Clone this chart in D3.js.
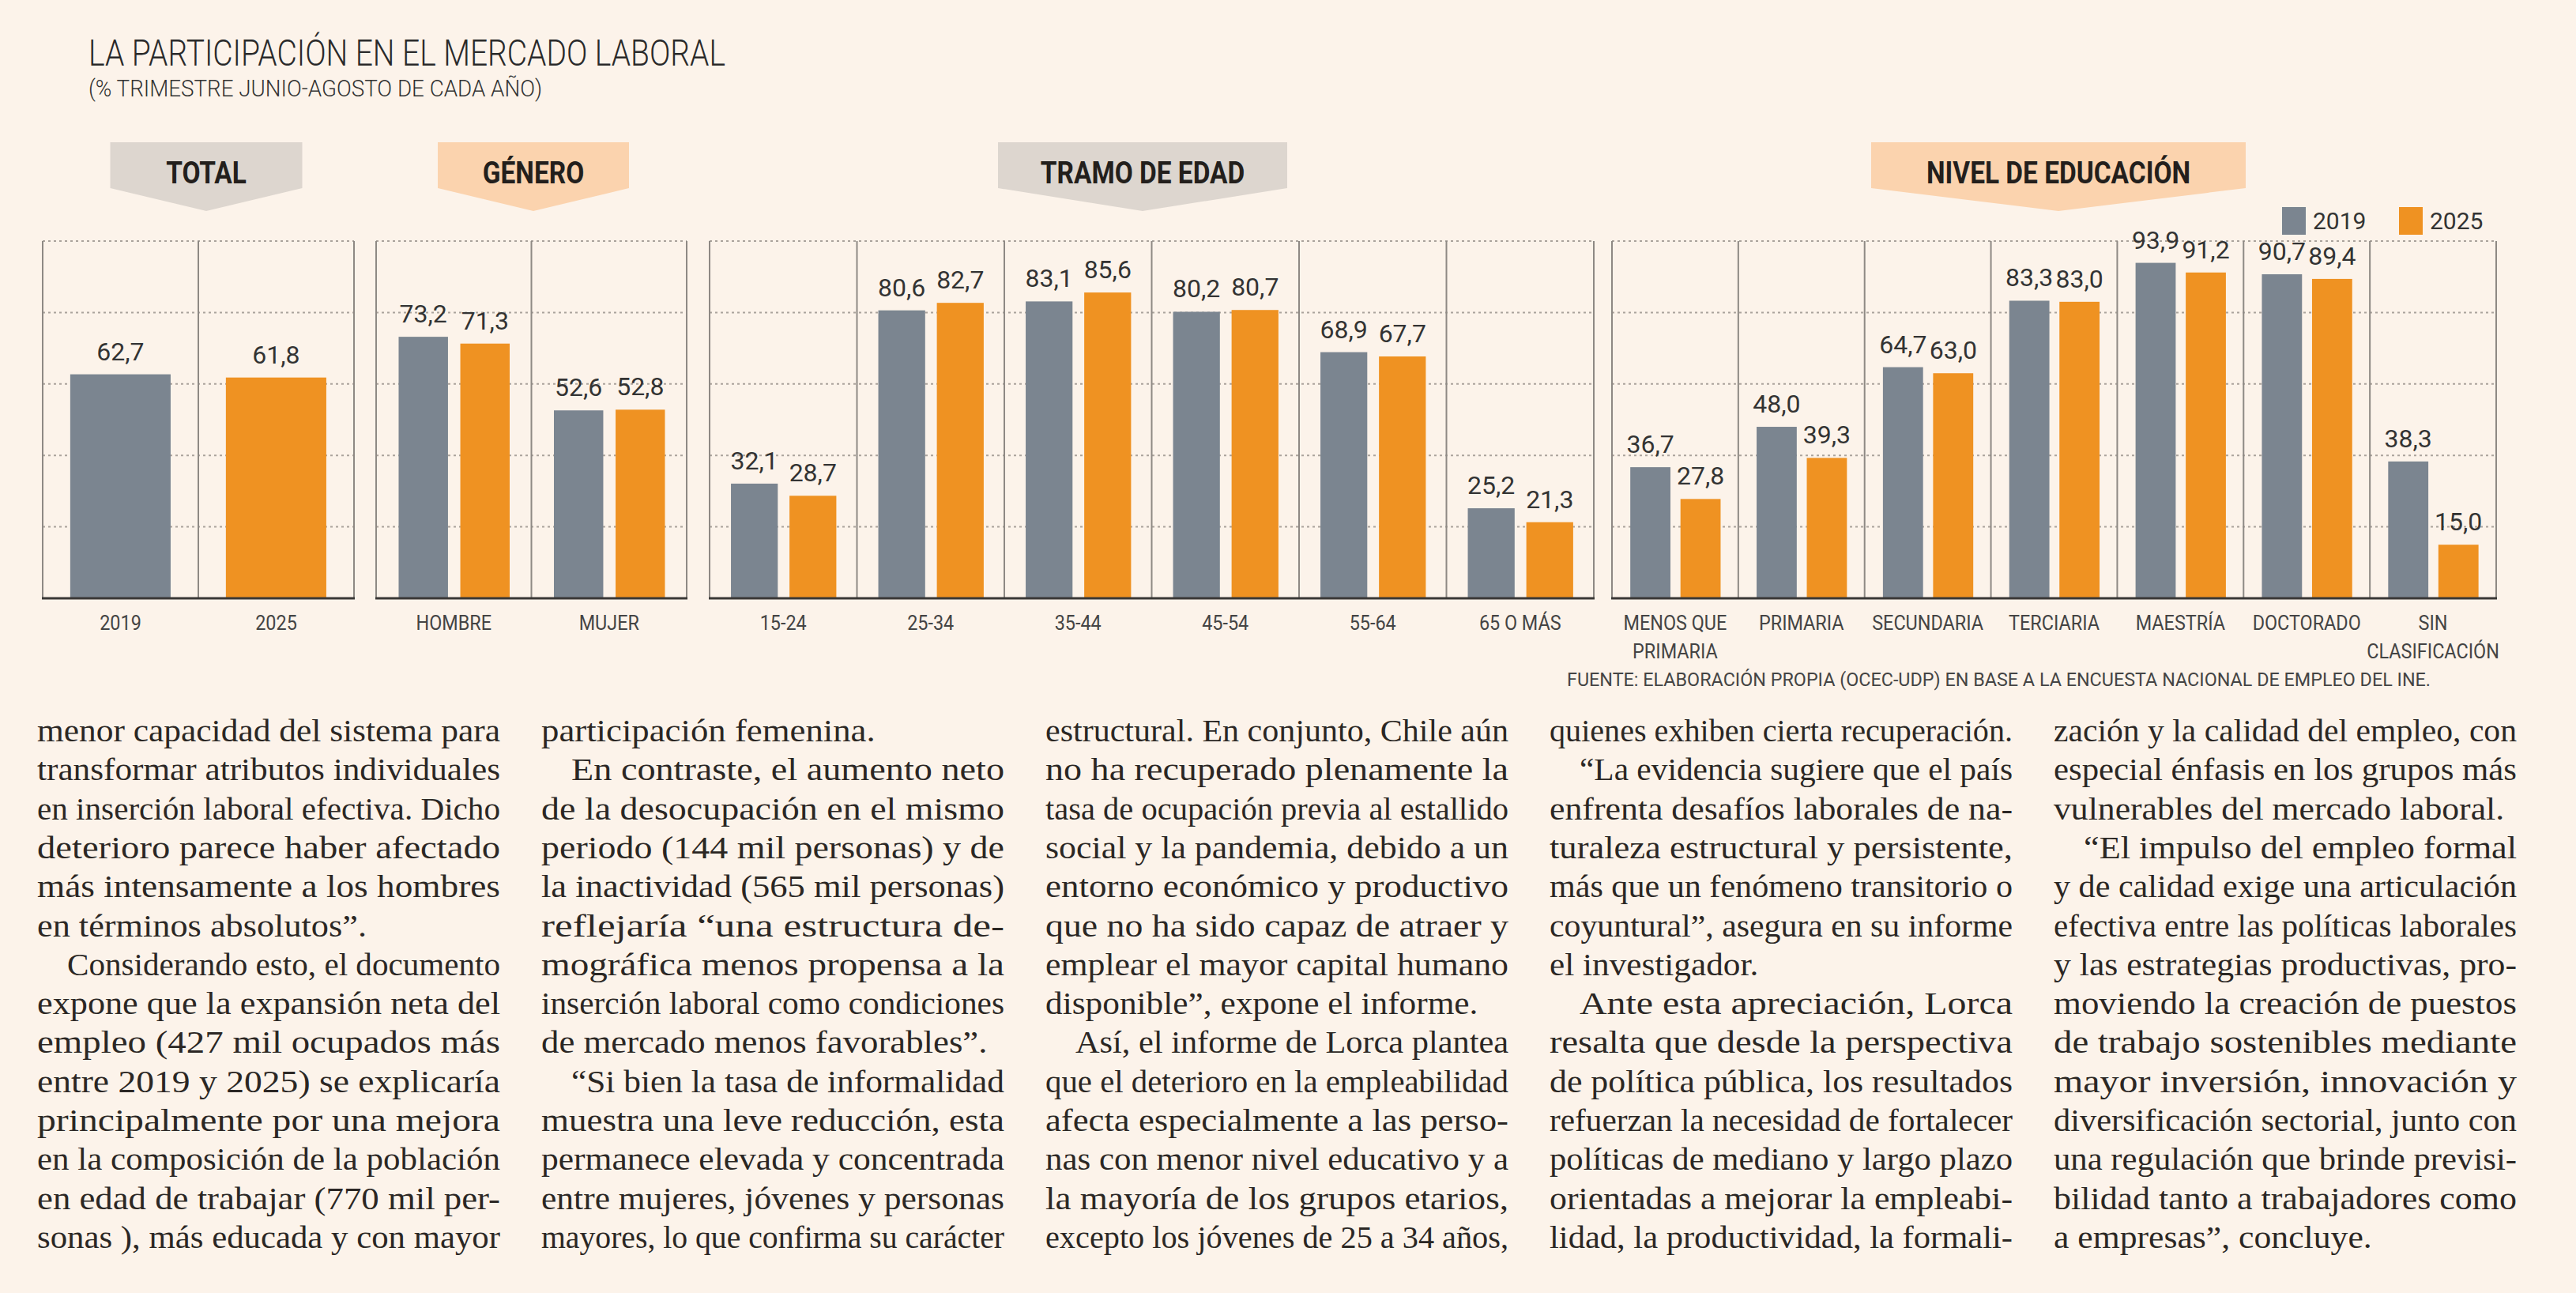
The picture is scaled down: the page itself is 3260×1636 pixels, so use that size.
<!DOCTYPE html>
<html>
<head>
<meta charset="utf-8">
<script src="https://cdn.jsdelivr.net/npm/d3@7"></script>
<style>
  body { margin: 0; background: #fcf3ea; }
  text { font-family: Roboto, "DejaVu Sans", sans-serif; }
</style>
</head>
<body>
<div id="chart"></div>
<script>
// ---- data ----
var years = ["2019", "2025"];
var headers = ["TOTAL", "GÉNERO", "TRAMO DE EDAD", "NIVEL DE EDUCACIÓN"];

var totalCats = ["2019", "2025"];
var totalValues = [62.7, 61.8];

var generoCats = ["HOMBRE", "MUJER"];
var genero2019 = [73.2, 52.6];
var genero2025 = [71.3, 52.8];

var edadCats = ["15-24", "25-34", "35-44", "45-54", "55-64", "65 O MÁS"];
var edad2019 = [32.1, 80.6, 83.1, 80.2, 68.9, 25.2];
var edad2025 = [28.7, 82.7, 85.6, 80.7, 67.7, 21.3];

var eduCats = ["MENOS QUE\nPRIMARIA", "PRIMARIA", "SECUNDARIA", "TERCIARIA", "MAESTRÍA", "DOCTORADO", "SIN\nCLASIFICACIÓN"];
var edu2019 = [36.7, 48.0, 64.7, 83.3, 93.9, 90.7, 38.3];
var edu2025 = [27.8, 39.3, 63.0, 83.0, 91.2, 89.4, 15.0];

var yTicks = [20, 40, 60, 80, 100];

var title = "LA PARTICIPACIÓN EN EL MERCADO LABORAL";
var subtitle = "(% TRIMESTRE JUNIO-AGOSTO DE CADA AÑO)";
var source = "FUENTE: ELABORACIÓN PROPIA (OCEC-UDP) EN BASE A LA ENCUESTA NACIONAL DE EMPLEO DEL INE.";

// article text under the chart: "i" = indented first line, "e" = paragraph end (not justified)
var col1 = [
  ["menor capacidad del sistema para", ""],
  ["transformar atributos individuales", ""],
  ["en inserción laboral efectiva. Dicho", ""],
  ["deterioro parece haber afectado", ""],
  ["más intensamente a los hombres", ""],
  ["en términos absolutos”.", "e"],
  ["Considerando esto, el documento", "i"],
  ["expone que la expansión neta del", ""],
  ["empleo (427 mil ocupados más", ""],
  ["entre 2019 y 2025) se explicaría", ""],
  ["principalmente por una mejora", ""],
  ["en la composición de la población", ""],
  ["en edad de trabajar (770 mil per-", ""],
  ["sonas ), más educada y con mayor", ""]
];
var col2 = [
  ["participación femenina.", "e"],
  ["En contraste, el aumento neto", "i"],
  ["de la desocupación en el mismo", ""],
  ["periodo (144 mil personas) y de", ""],
  ["la inactividad (565 mil personas)", ""],
  ["reflejaría “una estructura de-", ""],
  ["mográfica menos propensa a la", ""],
  ["inserción laboral como condiciones", ""],
  ["de mercado menos favorables”.", "e"],
  ["“Si bien la tasa de informalidad", "i"],
  ["muestra una leve reducción, esta", ""],
  ["permanece elevada y concentrada", ""],
  ["entre mujeres, jóvenes y personas", ""],
  ["mayores, lo que confirma su carácter", ""]
];
var col3 = [
  ["estructural. En conjunto, Chile aún", ""],
  ["no ha recuperado plenamente la", ""],
  ["tasa de ocupación previa al estallido", ""],
  ["social y la pandemia, debido a un", ""],
  ["entorno económico y productivo", ""],
  ["que no ha sido capaz de atraer y", ""],
  ["emplear el mayor capital humano", ""],
  ["disponible”, expone el informe.", "e"],
  ["Así, el informe de Lorca plantea", "i"],
  ["que el deterioro en la empleabilidad", ""],
  ["afecta especialmente a las perso-", ""],
  ["nas con menor nivel educativo y a", ""],
  ["la mayoría de los grupos etarios,", ""],
  ["excepto los jóvenes de 25 a 34 años,", ""]
];
var col4 = [
  ["quienes exhiben cierta recuperación.", ""],
  ["“La evidencia sugiere que el país", "i"],
  ["enfrenta desafíos laborales de na-", ""],
  ["turaleza estructural y persistente,", ""],
  ["más que un fenómeno transitorio o", ""],
  ["coyuntural”, asegura en su informe", ""],
  ["el investigador.", "e"],
  ["Ante esta apreciación, Lorca", "i"],
  ["resalta que desde la perspectiva", ""],
  ["de política pública, los resultados", ""],
  ["refuerzan la necesidad de fortalecer", ""],
  ["políticas de mediano y largo plazo", ""],
  ["orientadas a mejorar la empleabi-", ""],
  ["lidad, la productividad, la formali-", ""]
];
var col5 = [
  ["zación y la calidad del empleo, con", ""],
  ["especial énfasis en los grupos más", ""],
  ["vulnerables del mercado laboral.", "e"],
  ["“El impulso del empleo formal", "i"],
  ["y de calidad exige una articulación", ""],
  ["efectiva entre las políticas laborales", ""],
  ["y las estrategias productivas, pro-", ""],
  ["moviendo la creación de puestos", ""],
  ["de trabajo sostenibles mediante", ""],
  ["mayor inversión, innovación y", ""],
  ["diversificación sectorial, junto con", ""],
  ["una regulación que brinde previsi-", ""],
  ["bilidad tanto a trabajadores como", ""],
  ["a empresas”, concluye.", "e"]
];

// ---- layout ----
var width = 3260, height = 1636;
var colors = {"2019": "#7b8590", "2025": "#ef9222"};
var panelRanges = [[54, 448], [476, 869], [898, 2017], [2040, 3159]];
var headerCx = [261, 675, 1446, 2605];
var headerW = [243, 242, 366, 474];
var headerFill = ["#ddd6cf", "#fbd3ae", "#ddd6cf", "#fbd3ae"];

var svg = d3.select("#chart")
    .append("svg")
    .attr("width", width)
    .attr("height", height);

svg.append("rect")
    .attr("width", width)
    .attr("height", height)
    .attr("fill", "#fcf3ea");

var y = d3.scaleLinear().domain([0, 100]).range([757, 305]);
var fmt = d3.formatLocale({decimal: ",", thousands: ".", grouping: [3], currency: ["", ""]}).format(".1f");

// title block
svg.append("text")
    .attr("x", 112).attr("y", 83)
    .attr("font-size", 46).attr("font-weight", 300)
    .attr("fill", "#2a2a2a")
    .attr("textLength", 806).attr("lengthAdjust", "spacingAndGlyphs")
    .text(title);
svg.append("text")
    .attr("x", 112).attr("y", 122)
    .attr("font-size", 30).attr("font-weight", 300)
    .attr("fill", "#333")
    .attr("textLength", 574).attr("lengthAdjust", "spacingAndGlyphs")
    .text(subtitle);

var panels = [
    {cats: totalCats, series: [totalValues], single: true},
    {cats: generoCats, series: [genero2019, genero2025]},
    {cats: edadCats, series: [edad2019, edad2025]},
    {cats: eduCats, series: [edu2019, edu2025]}
];

panels.forEach(function(p, i) {
    var range = panelRanges[i];
    var g = svg.append("g");

    var x = d3.scaleBand().domain(p.cats).range(range).padding(0);
    var bw = x.bandwidth();

    // dotted gridlines
    g.selectAll(".grid")
        .data(yTicks)
        .enter().append("line")
        .attr("x1", range[0]).attr("x2", range[1])
        .attr("y1", function(d) { return y(d); })
        .attr("y2", function(d) { return y(d); })
        .attr("stroke", "#aaa39c")
        .attr("stroke-width", 2)
        .attr("stroke-dasharray", "3,4");

    // cell borders
    var edges = p.cats.map(function(c) { return x(c); }).concat([range[1]]);
    g.selectAll(".cell")
        .data(edges)
        .enter().append("line")
        .attr("x1", function(d) { return d; })
        .attr("x2", function(d) { return d; })
        .attr("y1", y(100)).attr("y2", y(0))
        .attr("stroke", "#8e8984")
        .attr("stroke-width", 2);

    // rows for the bars
    var rows = [];
    p.cats.forEach(function(c, j) {
        if (p.single) {
            rows.push({cat: c, year: years[j], value: p.series[0][j]});
        } else {
            years.forEach(function(yr, k) {
                rows.push({cat: c, year: yr, value: p.series[k][j]});
            });
        }
    });

    var xs = d3.scaleBand().domain(years).range([bw * 0.145, bw * 0.86]).paddingInner(0.2);
    var barX = function(d) {
        return p.single ? x(d.cat) + bw * 0.177 : x(d.cat) + xs(d.year);
    };
    var barW = p.single ? bw * 0.645 : xs.bandwidth();

    g.selectAll(".bar")
        .data(rows)
        .enter().append("rect")
        .attr("x", barX)
        .attr("y", function(d) { return y(d.value); })
        .attr("width", barW)
        .attr("height", function(d) { return y(0) - y(d.value); })
        .attr("fill", function(d) { return colors[d.year]; });

    g.selectAll(".val")
        .data(rows)
        .enter().append("text")
        .attr("x", function(d) { return barX(d) + barW / 2; })
        .attr("y", function(d) { return y(d.value) - 18; })
        .attr("text-anchor", "middle")
        .attr("font-size", 32)
        .attr("fill", "#333")
        .text(function(d) { return fmt(d.value); });

    // baseline
    g.append("line")
        .attr("x1", range[0] - 1).attr("x2", range[1] + 1)
        .attr("y1", y(0)).attr("y2", y(0))
        .attr("stroke", "#3a3836")
        .attr("stroke-width", 3);

    // category labels
    g.selectAll(".cat")
        .data(p.cats)
        .enter().append("text")
        .attr("transform", function(d) {
            return "translate(" + (x(d) + bw / 2) + ",797) scale(0.9,1)";
        })
        .attr("text-anchor", "middle")
        .attr("font-size", 26)
        .attr("fill", "#444")
        .each(function(d) {
            var t = d3.select(this);
            d.split("\n").forEach(function(line, k) {
                t.append("tspan").attr("x", 0).attr("dy", k ? 36 : 0).text(line);
            });
        });

    // section header tab
    var cx = headerCx[i], hw = headerW[i] / 2;
    g.append("path")
        .attr("d", "M" + (cx - hw) + ",180 H" + (cx + hw) + " V238 L" + cx + ",267 L" + (cx - hw) + ",238 Z")
        .attr("fill", headerFill[i]);
    g.append("text")
        .attr("transform", "translate(" + cx + ",232) scale(0.88,1)")
        .attr("text-anchor", "middle")
        .attr("font-size", 38)
        .attr("font-weight", 700)
        .attr("fill", "#231f1c")
        .text(headers[i]);
});

// legend
var legend = svg.append("g");
var legendX = [2888, 3036];
years.forEach(function(yr, k) {
    legend.append("rect")
        .attr("x", legendX[k]).attr("y", 262)
        .attr("width", 30).attr("height", 35)
        .attr("fill", colors[yr]);
    legend.append("text")
        .attr("x", legendX[k] + 39).attr("y", 290)
        .attr("font-size", 30)
        .attr("fill", "#333")
        .text(yr);
});

// source
svg.append("text")
    .attr("x", 1983).attr("y", 868)
    .attr("font-size", 24)
    .attr("fill", "#444")
    .attr("textLength", 1093).attr("lengthAdjust", "spacingAndGlyphs")
    .text(source);

// article columns
var columns = [col1, col2, col3, col4, col5];
var colX0 = 47, colPitch = 638, colW = 586, indent = 38;
var line0 = 938, lineH = 49.3;

columns.forEach(function(col, c) {
    var g = svg.append("g");
    var left = colX0 + c * colPitch;

    var texts = g.selectAll("text")
        .data(col)
        .enter().append("text")
        .style("font-family", "'Liberation Serif', 'DejaVu Serif', serif")
        .attr("font-size", 41)
        .attr("fill", "#2b2724")
        .attr("x", function(d) { return left + (d[1] === "i" ? indent : 0); })
        .attr("y", function(d, k) { return line0 + k * lineH; })
        .text(function(d) { return d[0]; });

    // justify: full lines fill the column, paragraph ends keep the column's mean ratio
    var ratios = [];
    texts.each(function(d) {
        d.nat = this.getComputedTextLength();
        if (d[1] !== "e") ratios.push((colW - (d[1] === "i" ? indent : 0)) / d.nat);
    });
    var mean = d3.mean(ratios);
    texts.each(function(d) {
        var target = d[1] === "e" ? Math.min(d.nat * mean, colW) : colW - (d[1] === "i" ? indent : 0);
        d3.select(this)
            .attr("textLength", target)
            .attr("lengthAdjust", "spacingAndGlyphs");
    });
});
</script>
</body>
</html>
